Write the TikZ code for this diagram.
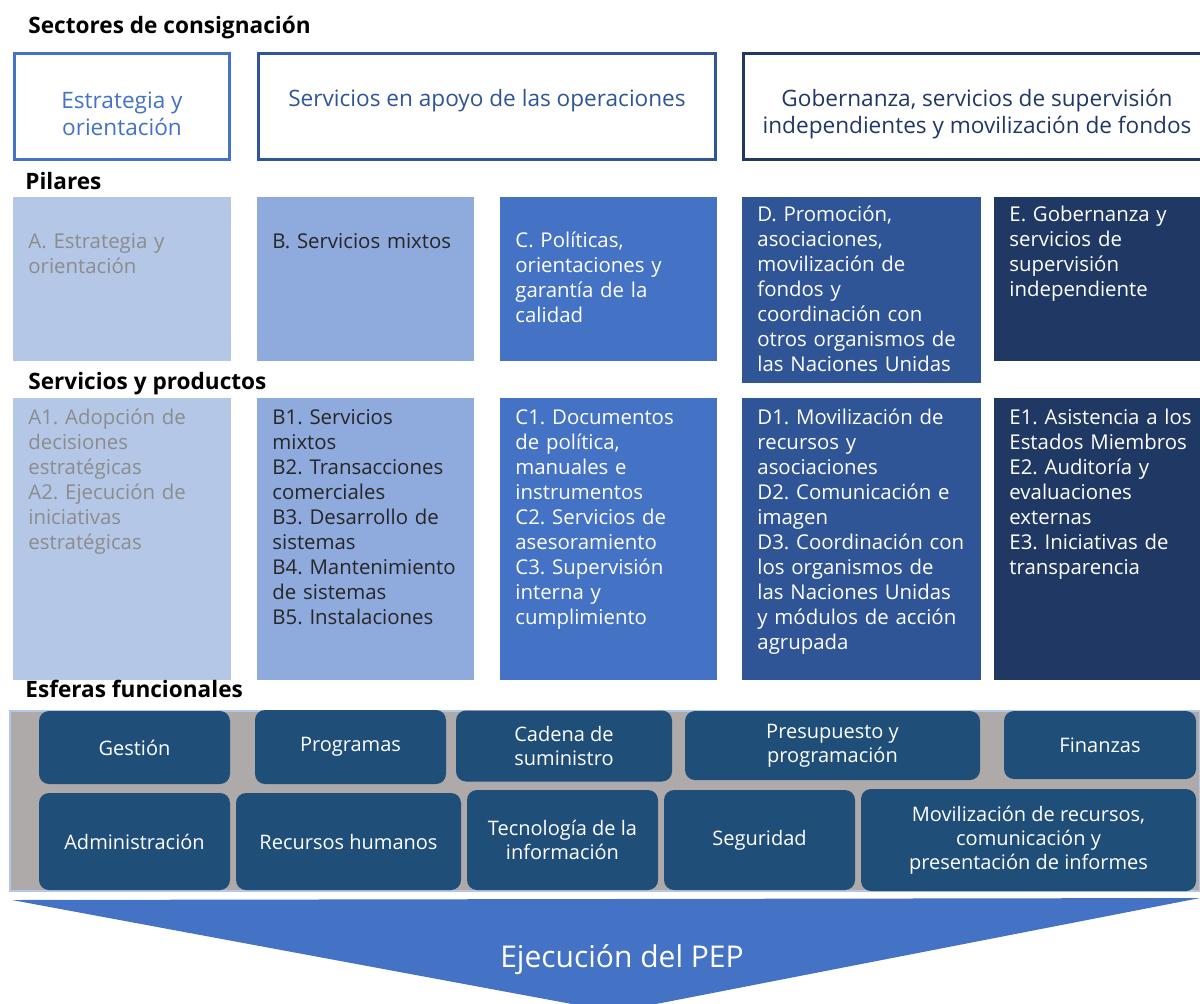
\documentclass[tikz,border=0pt]{standalone}
\usepackage{fontspec}
\setmainfont{Open Sans}
\usepackage{tikz}
\usetikzlibrary{positioning}
\frenchspacing

\definecolor{azulA}{HTML}{B4C7E7}
\definecolor{azulB}{HTML}{8FAADC}
\definecolor{azulC}{HTML}{4472C4}
\definecolor{azulD}{HTML}{2F5597}
\definecolor{azulE}{HTML}{203864}
\definecolor{esferaazul}{HTML}{1F4E79}
\definecolor{bandagris}{HTML}{AEAAAA}
\definecolor{textogris}{HTML}{8C8C8C}
\definecolor{textonegro}{HTML}{262626}

\tikzset{
	titulo/.style   = {anchor=base west, inner sep=0pt, font=\fontsize{11.3pt}{13pt}\selectfont\bfseries},
	sector/.style   = {rectangle, draw, line width=1.5pt, anchor=north west,
		inner sep=0pt, outer sep=0pt, fill=white},
	sectortxt/.style= {align=center, inner sep=0pt, font=\fontsize{11.3pt}{13.5pt}\selectfont},
	bloque/.style   = {rectangle, anchor=north west, inner sep=0pt, outer sep=0pt},
	bloquetxt/.style= {anchor=base west, align=left, inner sep=0pt, text width=105pt,
		font=\fontsize{10.2pt}{12.5pt}\selectfont},
	esfera/.style   = {rectangle, rounded corners=5pt, fill=esferaazul, text=white,
		align=center, inner sep=0pt, font=\fontsize{10pt}{12pt}\selectfont},
}

\begin{document}
\begin{tikzpicture}[x=0.5pt, y=-0.5pt]
	\useasboundingbox (0,0) rectangle (1200,1003);
	\clip (0,0) rectangle (1200,1003);

	% sectores de consignacion
	\node[titulo] (tsect) at (28,33) {Sectores de consignación};
	\node[sector, draw=azulC, minimum width=107.5pt, minimum height=53pt] (s1) at (14.5,53.5) {};
	\node[sector, draw=azulD, minimum width=228.5pt, minimum height=53pt] (s2) at (258.5,53.5) {};
	\node[sector, draw=azulE, minimum width=235pt, minimum height=53pt] (s3) at (743.5,53.5) {};
	\node[sectortxt, text=azulC] (s1t) at (122,114) {Estrategia y\\orientación};
	\node[sectortxt, text=azulD] (s2t) at (487,101) {Servicios en apoyo de las operaciones};
	\node[sectortxt, text=azulE] (s3t) at (977,114) {Gobernanza, servicios de supervisión\\independientes y movilización de fondos};

	% pilares
	\node[titulo] (tpil) at (25,189) {Pilares};
	\node[bloque, fill=azulA, minimum width=109pt, minimum height=82pt] (pA) at (13,197) {};
	\node[bloque, fill=azulB, minimum width=108.5pt, minimum height=82pt] (pB) at (257,197) {};
	\node[bloque, fill=azulC, minimum width=108.5pt, minimum height=82pt] (pC) at (500,197) {};
	\node[bloque, fill=azulD, minimum width=119.5pt, minimum height=93pt] (pD) at (742,197) {};
	\node[bloque, fill=azulE, minimum width=103pt, minimum height=82pt] (pE) at (994,197) {};
	\node[bloquetxt, text=textogris] (pAt) at (28,248) {A. Estrategia y\\orientación};
	\node[bloquetxt, text=textonegro] (pBt) at (272,248) {B. Servicios mixtos};
	\node[bloquetxt, text=white] (pCt) at (515,247) {C. Políticas,\\orientaciones y\\garantía de la\\calidad};
	\node[bloquetxt, text=white] (pDt) at (757,221) {D. Promoción,\\asociaciones,\\movilización de\\fondos y\\coordinación con\\otros organismos de\\las Naciones Unidas};
	\node[bloquetxt, text=white] (pEt) at (1009,221) {E. Gobernanza y\\servicios de\\supervisión\\independiente};

	% servicios y productos
	\node[titulo] (tserv) at (28,389) {Servicios y productos};
	\node[bloque, fill=azulA, minimum width=109pt, minimum height=141pt] (sA) at (13,398) {};
	\node[bloque, fill=azulB, minimum width=108.5pt, minimum height=141pt] (sB) at (257,398) {};
	\node[bloque, fill=azulC, minimum width=108.5pt, minimum height=141pt] (sC) at (500,398) {};
	\node[bloque, fill=azulD, minimum width=119.5pt, minimum height=141pt] (sD) at (742,398) {};
	\node[bloque, fill=azulE, minimum width=103pt, minimum height=141pt] (sE) at (994,398) {};
	\node[bloquetxt, text=textogris] (sAt) at (28,424) {A1. Adopción de\\decisiones\\estratégicas\\A2. Ejecución de\\iniciativas\\estratégicas};
	\node[bloquetxt, text=textonegro] (sBt) at (272,424) {B1. Servicios\\mixtos\\B2. Transacciones\\comerciales\\B3. Desarrollo de\\sistemas\\B4. Mantenimiento\\de sistemas\\B5. Instalaciones};
	\node[bloquetxt, text=white] (sCt) at (515,424) {C1. Documentos\\de política,\\manuales e\\instrumentos\\C2. Servicios de\\asesoramiento\\C3. Supervisión\\interna y\\cumplimiento};
	\node[bloquetxt, text=white] (sDt) at (757,424) {D1. Movilización de\\recursos y\\asociaciones\\D2. Comunicación e\\imagen\\D3. Coordinación con\\los organismos de\\las Naciones Unidas\\y módulos de acción\\agrupada};
	\node[bloquetxt, text=white] (sEt) at (1009,424) {E1. Asistencia a los\\Estados Miembros\\E2. Auditoría y\\evaluaciones\\externas\\E3. Iniciativas de\\transparencia};

	% esferas funcionales
	\node[titulo] (tesf) at (25,697) {Esferas funcionales};
	\node[bloque, fill=bandagris, draw=azulA, line width=0.75pt, minimum width=595pt, minimum height=90pt] (banda) at (10,711) {};
	\node[esfera, minimum width=95.5pt, minimum height=36.5pt] (gest) at (134.5,747.5) {Gestión};
	\node[esfera, minimum width=95.5pt, minimum height=37pt] (prog) at (350.5,747) {Programas};
	\node[esfera, minimum width=108pt, minimum height=35.5pt] (cadena) at (564,746) {Cadena de\\suministro};
	\node[esfera, minimum width=147.5pt, minimum height=34.5pt] (presu) at (832.5,745.5) {Presupuesto y\\programación};
	\node[esfera, minimum width=96pt, minimum height=34pt] (fin) at (1100,745) {Finanzas};
	\node[esfera, minimum width=95.5pt, minimum height=48.5pt] (admin) at (134.5,841.5) {Administración};
	\node[esfera, minimum width=112.5pt, minimum height=48.5pt] (rrhh) at (348.5,841.5) {Recursos humanos};
	\node[esfera, minimum width=95.5pt, minimum height=50pt] (tic) at (562.5,840) {Tecnología de la\\información};
	\node[esfera, minimum width=95.5pt, minimum height=50pt] (segur) at (759.5,840) {Seguridad};
	\node[esfera, minimum width=167.5pt, minimum height=51pt] (movil) at (1028.5,840) {Movilización de recursos,\\comunicación y\\presentación de informes};

	% flecha de ejecucion
	\fill[azulC] (12,900) -- (1200,898) -- (615,1012) -- cycle;
	\node[text=white, inner sep=0pt, font=\fontsize{15pt}{18pt}\selectfont] (pep) at (622,960) {Ejecución del PEP};
\end{tikzpicture}
\end{document}
